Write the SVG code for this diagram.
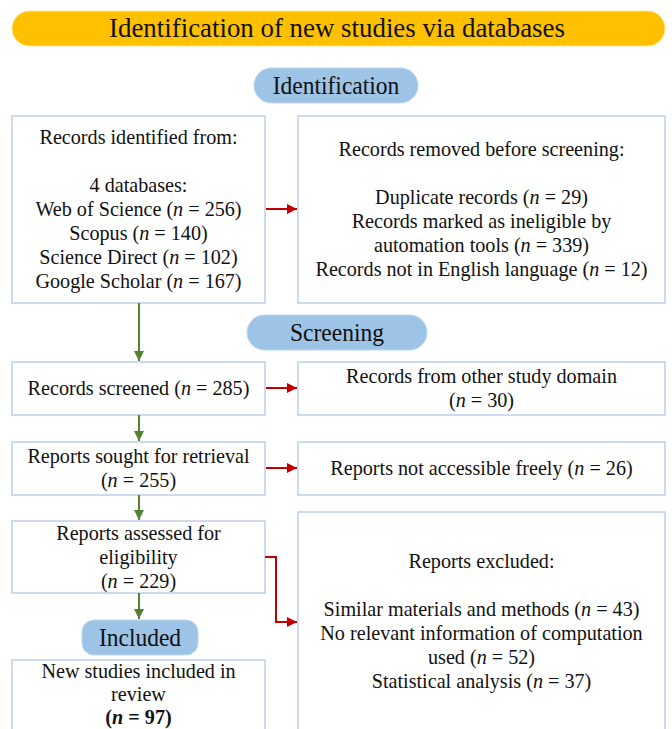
<svg xmlns="http://www.w3.org/2000/svg" width="672" height="729" viewBox="0 0 672 729">
<defs>
<style>
.box{fill:#fff;stroke:#B4C7E7;stroke-width:1.3}
.pill{fill:#9DC3E6;stroke:#BDD7EE;stroke-width:1}
text{font-family:'Liberation Serif','Times New Roman',serif;fill:#111;text-anchor:middle}
.t{font-size:21px}
.h{font-size:24.5px}
.i{font-style:italic}
.g{stroke:#548235;stroke-width:2;fill:none}
.r{stroke:#C00000;stroke-width:2;fill:none}
</style>
<marker id="ag" viewBox="0 0 10 10" refX="10" refY="5" markerWidth="5" markerHeight="5" orient="auto" markerUnits="strokeWidth"><path d="M0,0 L10,5 L0,10 z" fill="#548235"/></marker>
<marker id="ar" viewBox="0 0 10 10" refX="10" refY="5" markerWidth="5" markerHeight="5" orient="auto" markerUnits="strokeWidth"><path d="M0,0 L10,5 L0,10 z" fill="#C00000"/></marker>
</defs>
<rect width="672" height="729" fill="#fff"/>
<g id="title">
<rect x="12" y="11" width="653" height="35" rx="17.5" fill="#FFC000" stroke="#FFE699" stroke-width="1"/>
<g transform="translate(337 0) scale(0.96 1)"><text x="0" y="37" style="font-size:28px">Identification of new studies via databases</text></g>
</g>
<g id="pill-identification">
<rect class="pill" x="254" y="68" width="164" height="35" rx="17.5"/>
<g transform="translate(336 0) scale(0.96 1)"><text class="h" x="0" y="94">Identification</text></g>
</g>
<g id="records-identified">
<rect class="box" x="12" y="116" width="253" height="187"/>
<g transform="translate(138.5 0) scale(0.96 1)"><text class="t"><tspan x="0" y="144.5">Records identified from:</tspan><tspan x="0" y="192.5">4 databases:</tspan><tspan x="0" y="216.5">Web of Science (<tspan class="i">n</tspan> = 256)</tspan><tspan x="0" y="240.5">Scopus (<tspan class="i">n</tspan> = 140)</tspan><tspan x="0" y="264.5">Science Direct (<tspan class="i">n</tspan> = 102)</tspan><tspan x="0" y="288.5">Google Scholar (<tspan class="i">n</tspan> = 167)</tspan></text></g>
</g>
<g id="records-removed">
<rect class="box" x="298" y="116" width="367" height="187"/>
<g transform="translate(481.5 0) scale(0.96 1)"><text class="t"><tspan x="0" y="156.5">Records removed before screening:</tspan><tspan x="0" y="204.5">Duplicate records (<tspan class="i">n</tspan> = 29)</tspan><tspan x="0" y="228.5">Records marked as ineligible by</tspan><tspan x="0" y="252.5">automation tools (<tspan class="i">n</tspan> = 339)</tspan><tspan x="0" y="276.5">Records not in English language (<tspan class="i">n</tspan> = 12)</tspan></text></g>
</g>
<g id="pill-screening">
<rect class="pill" x="247" y="315" width="180" height="35" rx="17.5"/>
<g transform="translate(337 0) scale(0.96 1)"><text class="h" x="0" y="341">Screening</text></g>
</g>
<g id="records-screened">
<rect class="box" x="12" y="362" width="253" height="53"/>
<g transform="translate(138.5 0) scale(0.96 1)"><text class="t" x="0" y="395.5">Records screened (<tspan class="i">n</tspan> = 285)</text></g>
</g>
<g id="other-domain">
<rect class="box" x="298" y="362" width="367" height="53"/>
<g transform="translate(481.5 0) scale(0.96 1)"><text class="t"><tspan x="0" y="383.5">Records from other study domain</tspan><tspan x="0" y="407.5">(<tspan class="i">n</tspan> = 30)</tspan></text></g>
</g>
<g id="reports-sought">
<rect class="box" x="12" y="442" width="253" height="53"/>
<g transform="translate(138.5 0) scale(0.96 1)"><text class="t"><tspan x="0" y="463.5">Reports sought for retrieval</tspan><tspan x="0" y="487.5">(<tspan class="i">n</tspan> = 255)</tspan></text></g>
</g>
<g id="not-accessible">
<rect class="box" x="298" y="442" width="367" height="53"/>
<g transform="translate(481.5 0) scale(0.96 1)"><text class="t" x="0" y="475.5">Reports not accessible freely (<tspan class="i">n</tspan> = 26)</text></g>
</g>
<g id="reports-assessed">
<rect class="box" x="12" y="521" width="253" height="72"/>
<g transform="translate(138.5 0) scale(0.96 1)"><text class="t"><tspan x="0" y="540">Reports assessed for</tspan><tspan x="0" y="564">eligibility</tspan><tspan x="0" y="588">(<tspan class="i">n</tspan> = 229)</tspan></text></g>
</g>
<g id="reports-excluded">
<rect class="box" x="298" y="512" width="367" height="240"/>
<g transform="translate(481.5 0) scale(0.96 1)"><text class="t"><tspan x="0" y="568">Reports excluded:</tspan><tspan x="0" y="616">Similar materials and methods (<tspan class="i">n</tspan> = 43)</tspan><tspan x="0" y="640">No relevant information of computation</tspan><tspan x="0" y="664">used (<tspan class="i">n</tspan> = 52)</tspan><tspan x="0" y="688">Statistical analysis (<tspan class="i">n</tspan> = 37)</tspan></text></g>
</g>
<g id="pill-included">
<rect class="pill" x="82" y="620" width="116" height="35" rx="12"/>
<g transform="translate(140 0) scale(0.96 1)"><text class="h" x="0" y="646">Included</text></g>
</g>
<g id="studies-included">
<rect class="box" x="12" y="660" width="253" height="90"/>
<g transform="translate(138.5 0) scale(0.96 1)"><text class="t"><tspan x="0" y="678.5">New studies included in</tspan><tspan x="0" y="701.5">review</tspan><tspan x="0" y="724.5" font-weight="bold">(<tspan class="i">n</tspan> = 97)</tspan></text></g>
</g>
<g id="connectors">
<path class="r" d="M266,209 H297" marker-end="url(#ar)"/>
<path class="g" d="M139,303 V361" marker-end="url(#ag)"/>
<path class="r" d="M266,388 H297" marker-end="url(#ar)"/>
<path class="g" d="M139,415 V441" marker-end="url(#ag)"/>
<path class="r" d="M266,468 H297" marker-end="url(#ar)"/>
<path class="g" d="M139,495 V520" marker-end="url(#ag)"/>
<path class="r" d="M265,557 H276 V622 H297" marker-end="url(#ar)"/>
<path class="g" d="M139,593 V619" marker-end="url(#ag)"/>
</g>
</svg>
